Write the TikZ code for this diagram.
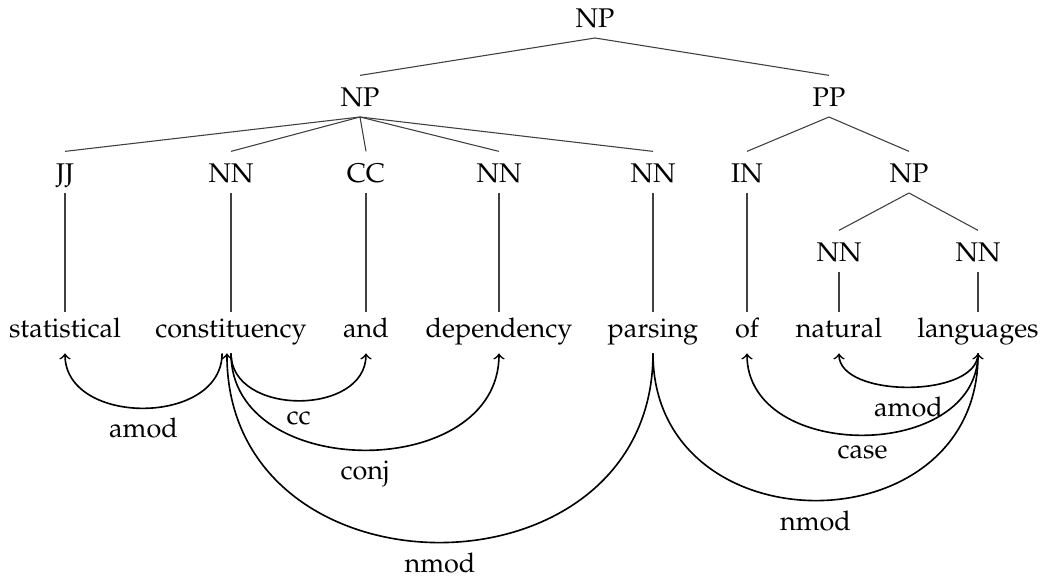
\documentclass[tikz,border=0pt]{standalone}
\usepackage[T1]{fontenc}
\usepackage{mathpazo}
\tikzset{
    tag/.style={anchor=base, inner sep=3.5pt, text height=8pt, text depth=0pt},
    word/.style={anchor=base, inner sep=2.5pt, text height=7pt, text depth=3pt},
    treeedge/.style={draw=black!75, line width=0.4pt},
    deparc/.style={->, line width=0.6pt},
    deplabel/.style={midway, below, inner sep=3.5pt}
}
\begin{document}
\begin{tikzpicture}[x=0.37pt, y=-0.37pt]
            \useasboundingbox (0,0) rectangle (1041,576);
            % phrase structure
            \node[tag] (np0) at (595,28) {NP};
            \node[tag] (np1) at (360,107) {NP};
            \node[tag] (pp) at (829,107) {PP};
            \node[tag] (jj) at (65,183) {JJ};
            \node[tag] (nn1) at (231,183) {NN};
            \node[tag] (cc) at (366,183) {CC};
            \node[tag] (nn2) at (499,183) {NN};
            \node[tag] (nn3) at (653,183) {NN};
            \node[tag] (in) at (747,183) {IN};
            \node[tag] (np2) at (909,183) {NP};
            \node[tag] (nn4) at (839,262) {NN};
            \node[tag] (nn5) at (978,262) {NN};
            % words
            \node[word] (stat) at (65,338) {statistical};
            \node[word] (const) at (231,338) {constituency};
            \node[word] (and) at (366,338) {and};
            \node[word] (dep) at (499,338) {dependency};
            \node[word] (pars) at (653,338) {parsing};
            \node[word] (of) at (747,338) {of};
            \node[word] (nat) at (839,338) {natural};
            \node[word] (lang) at (978,338) {languages};
            % tree edges
            \foreach \c in {np1,pp}
                \draw[treeedge] (np0.south) -- (\c.north);
            \foreach \c in {jj,nn1,cc,nn2,nn3}
                \draw[treeedge] (np1.south) -- (\c.north);
            \foreach \c in {in,np2}
                \draw[treeedge] (pp.south) -- (\c.north);
            \foreach \c in {nn4,nn5}
                \draw[treeedge] (np2.south) -- (\c.north);
            \foreach \t/\w in {jj/stat,nn1/const,cc/and,nn2/dep,nn3/pars,in/of,nn4/nat,nn5/lang}
                \draw[treeedge] (\t.south) -- (\w.north);
            % dependency arcs
            \draw[deparc] ([xshift=-3.3pt]const.south) .. controls +(0,73) and +(0,73) .. (stat.south) node[deplabel]{amod};
            \draw[deparc] (const.south) .. controls +(0,63) and +(0,63) .. (and.south) node[deplabel]{cc};
            \draw[deparc] (const.south) .. controls +(0,129) and +(0,129) .. (dep.south) node[deplabel]{conj};
            \draw[deparc] (pars.south) .. controls +(0,252) and +(0,252) .. ([xshift=-1.5pt]const.south) node[deplabel]{nmod};
            \draw[deparc] (lang.south) .. controls +(0,45) and +(0,45) .. (nat.south) node[deplabel]{amod};
            \draw[deparc] (lang.south) .. controls +(0,109) and +(0,109) .. (of.south) node[deplabel]{case};
            \draw[deparc] (pars.south) .. controls +(0,196) and +(0,196) .. (lang.south) node[deplabel]{nmod};
\end{tikzpicture}
\end{document}
